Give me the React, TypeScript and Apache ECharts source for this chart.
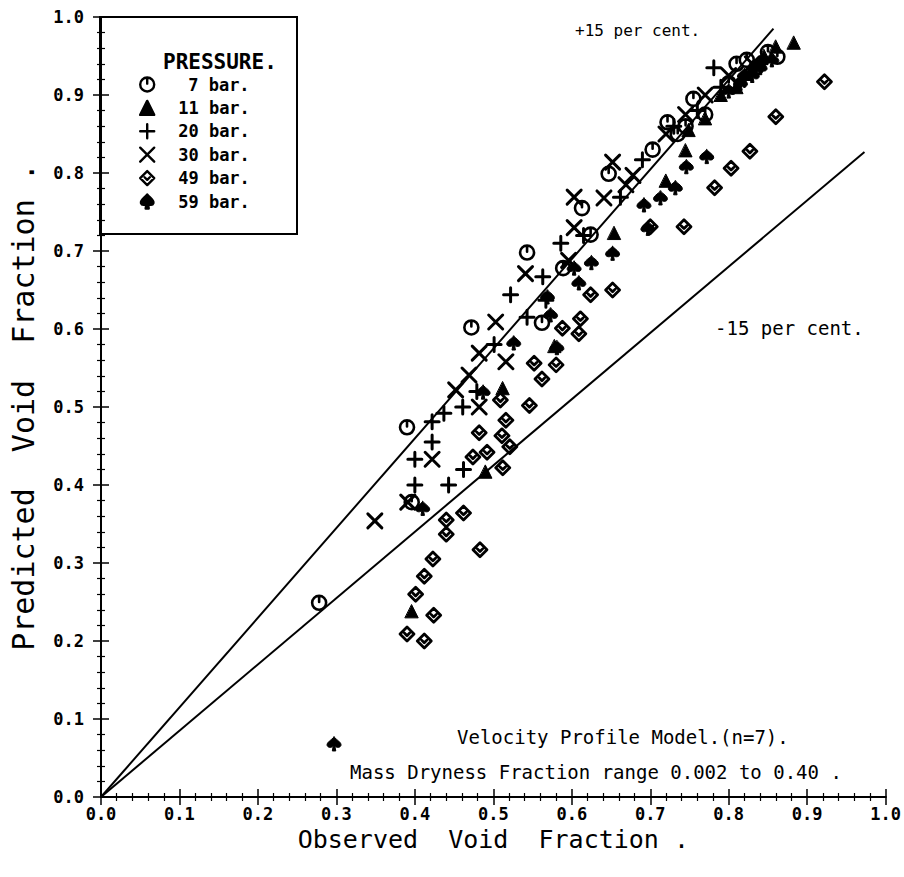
import React, { useEffect, useRef } from "react";
import * as echarts from "echarts";

const pressures = ["7", "11", "20", "30", "49", "59"];
const seriesNames = pressures.map((p) => p + " bar");

const bar7 = [
  [0.278, 0.249], [0.39, 0.474], [0.396, 0.378], [0.472, 0.602], [0.543, 0.698],
  [0.562, 0.608], [0.589, 0.678], [0.613, 0.755], [0.624, 0.721], [0.647, 0.799],
  [0.703, 0.83], [0.722, 0.865], [0.735, 0.85], [0.745, 0.86], [0.755, 0.895],
  [0.77, 0.875], [0.8, 0.915], [0.81, 0.94], [0.823, 0.945], [0.835, 0.935],
  [0.85, 0.955], [0.862, 0.949],
];
const bar11 = [
  [0.396, 0.238], [0.49, 0.417], [0.512, 0.524], [0.578, 0.578], [0.654, 0.723],
  [0.72, 0.79], [0.745, 0.829], [0.749, 0.855], [0.77, 0.87], [0.79, 0.9],
  [0.81, 0.91], [0.83, 0.935], [0.845, 0.95], [0.86, 0.962], [0.883, 0.967],
];
const bar20 = [
  [0.4, 0.4], [0.4, 0.433], [0.422, 0.455], [0.422, 0.481], [0.443, 0.4],
  [0.462, 0.42], [0.437, 0.492], [0.461, 0.5], [0.479, 0.52], [0.501, 0.58],
  [0.522, 0.644], [0.543, 0.615], [0.563, 0.667], [0.567, 0.637], [0.586, 0.71],
  [0.615, 0.72], [0.662, 0.769], [0.69, 0.817], [0.73, 0.86], [0.76, 0.88],
  [0.781, 0.935], [0.79, 0.91], [0.82, 0.92], [0.84, 0.94],
];
const bar30 = [
  [0.349, 0.354], [0.391, 0.378], [0.422, 0.433], [0.452, 0.522], [0.469, 0.541],
  [0.482, 0.569], [0.482, 0.5], [0.503, 0.609], [0.516, 0.558], [0.541, 0.671],
  [0.596, 0.688], [0.603, 0.73], [0.603, 0.769], [0.641, 0.768], [0.652, 0.814],
  [0.669, 0.785], [0.678, 0.797], [0.72, 0.85], [0.745, 0.875], [0.77, 0.9],
  [0.8, 0.925], [0.83, 0.94],
];
const bar49 = [
  [0.39, 0.209], [0.412, 0.2], [0.401, 0.26], [0.412, 0.283], [0.423, 0.305],
  [0.424, 0.233], [0.44, 0.355], [0.44, 0.337], [0.462, 0.364], [0.483, 0.317],
  [0.474, 0.436], [0.492, 0.442], [0.482, 0.467], [0.511, 0.463], [0.521, 0.449],
  [0.512, 0.422], [0.516, 0.483], [0.509, 0.509], [0.546, 0.502], [0.552, 0.556],
  [0.562, 0.536], [0.58, 0.554], [0.588, 0.601], [0.609, 0.594], [0.611, 0.613],
  [0.624, 0.644], [0.652, 0.65], [0.7, 0.731], [0.743, 0.731], [0.782, 0.781],
  [0.803, 0.806], [0.827, 0.828], [0.86, 0.872], [0.922, 0.917],
];
const bar59 = [
  [0.297, 0.068], [0.41, 0.37], [0.487, 0.519], [0.526, 0.582], [0.573, 0.618],
  [0.581, 0.576], [0.569, 0.641], [0.603, 0.678], [0.609, 0.659], [0.625, 0.685],
  [0.652, 0.697], [0.697, 0.729], [0.692, 0.759], [0.713, 0.768], [0.732, 0.781],
  [0.746, 0.808], [0.772, 0.821], [0.8, 0.905], [0.815, 0.915], [0.82, 0.925],
  [0.83, 0.925], [0.84, 0.935], [0.855, 0.945],
];

const upperLine = [[0, 0], [0.857, 0.985]];
const lowerLine = [[0, 0], [0.973, 0.827]];

const MONO = "DejaVu Sans Mono";

const SYM_CIRCLE = "path://M2,10 A8,8 0 1,1 18,10 A8,8 0 1,1 2,10 Z M10,4 L10,9";
const SYM_PLUS = "path://M10,1 L10,19 M1,10 L19,10";
const SYM_X = "path://M2,2 L18,18 M18,2 L2,18";
const SYM_DIAMOND = "path://M10,2 L18,10 L10,18 L2,10 Z M7,9 L10,12 L13,9";
const SYM_SPADE =
  "path://M10,1 C13,5 19,8 18,12 C17,15 13,15 11,13 L12,19 L8,19 L9,13 C7,15 3,15 2,12 C1,8 7,5 10,1 Z";

export default function App() {
  const ref = useRef<HTMLDivElement>(null);

  useEffect(() => {
    if (!ref.current) return;
    const chart = echarts.init(ref.current, null, { renderer: "svg" });

    const seriesDefs = [
      { data: bar7, symbol: SYM_CIRCLE, size: 14, style: { color: "#fff", borderColor: "#000", borderWidth: 2.6 } },
      { data: bar11, symbol: "triangle", size: 13, style: { color: "#000", borderColor: "#000", borderWidth: 1 } },
      { data: bar20, symbol: SYM_PLUS, size: 14, style: { color: "#000", borderColor: "#000", borderWidth: 3 } },
      { data: bar30, symbol: SYM_X, size: 14, style: { color: "#000", borderColor: "#000", borderWidth: 3 } },
      { data: bar49, symbol: SYM_DIAMOND, size: 14, style: { color: "#fff", borderColor: "#000", borderWidth: 2.8 } },
      { data: bar59, symbol: SYM_SPADE, size: 14, style: { color: "#000", borderColor: "#000", borderWidth: 1 } },
    ];

    const axisCommon = {
      type: "value",
      min: 0,
      max: 1,
      interval: 0.1,
      axisLine: { show: true, lineStyle: { color: "#000", width: 2 } },
      axisTick: { show: true, inside: true, length: 8, lineStyle: { color: "#000", width: 1.5 } },
      minorTick: { show: true, splitNumber: 5, length: 4, lineStyle: { color: "#000", width: 1.2 } },
      splitLine: { show: false },
      minorSplitLine: { show: false },
    };
    const labelStyle = {
      color: "#000",
      fontFamily: MONO,
      fontSize: 17,
      fontWeight: "bold",
      formatter: (v: number) => v.toFixed(1),
    };

    const textStyleBase = { fontFamily: MONO, fill: "#000" };
    const legendRich = { fontFamily: MONO, fontSize: 17, fontWeight: "bold", color: "#000" };

    chart.setOption({
      animation: false,
      backgroundColor: "#fff",
      grid: { left: 100, right: 18, top: 17, bottom: 80, containLabel: false },
      xAxis: [
        {
          ...axisCommon,
          position: "bottom",
          axisLabel: { ...labelStyle, margin: 8 },
          name: "Observed  Void  Fraction .",
          nameLocation: "middle",
          nameGap: 26,
          nameTextStyle: { fontFamily: MONO, fontSize: 25, color: "#000", verticalAlign: "top" },
        },
        { ...axisCommon, position: "top", axisLabel: { show: false } },
      ],
      yAxis: [
        {
          ...axisCommon,
          position: "left",
          axisLabel: { ...labelStyle, margin: 17 },
          name: "Predicted  Void  Fraction .",
          nameLocation: "middle",
          nameGap: 63,
          nameTextStyle: { fontFamily: MONO, fontSize: 30, color: "#000" },
        },
        { ...axisCommon, position: "right", axisLabel: { show: false } },
      ],
      legend: {
        orient: "vertical",
        left: 134,
        top: 71,
        itemWidth: 14,
        itemHeight: 14,
        itemGap: 6.4,
        data: seriesNames,
        itemStyle: { borderWidth: 2.4 },
        formatter: (name: string) => {
          const num = name.split(" ")[0];
          return `{${num.length === 1 ? "p" : "q"}|${num} bar.}`;
        },
        textStyle: {
          ...legendRich,
          rich: {
            p: { ...legendRich, padding: [0, 0, 0, 29] },
            q: { ...legendRich, padding: [0, 0, 0, 19] },
          },
        },
      },
      graphic: [
        {
          type: "rect",
          shape: { x: 100, y: 17, width: 197, height: 217 },
          style: { fill: "none", stroke: "#000", lineWidth: 2 },
          z: 10,
        },
        {
          type: "text",
          x: 163,
          y: 62,
          style: { ...textStyleBase, text: "PRESSURE.", fontSize: 21, fontWeight: "bold", verticalAlign: "middle" },
          z: 10,
        },
        {
          type: "text",
          x: 575,
          y: 30,
          style: { ...textStyleBase, text: "+15 per cent.", fontSize: 16, verticalAlign: "middle" },
        },
        {
          type: "text",
          x: 715,
          y: 328,
          style: { ...textStyleBase, text: "-15 per cent.", fontSize: 19, verticalAlign: "middle" },
        },
        {
          type: "text",
          x: 457,
          y: 737,
          style: { ...textStyleBase, text: "Velocity Profile Model.(n=7).", fontSize: 19, verticalAlign: "middle" },
        },
        {
          type: "text",
          x: 350,
          y: 772,
          style: {
            ...textStyleBase,
            text: "Mass Dryness Fraction range 0.002 to 0.40 .",
            fontSize: 19,
            verticalAlign: "middle",
          },
        },
      ],
      series: [
        {
          type: "line",
          data: upperLine,
          symbol: "none",
          lineStyle: { color: "#000", width: 2 },
          silent: true,
        },
        {
          type: "line",
          data: lowerLine,
          symbol: "none",
          lineStyle: { color: "#000", width: 2 },
          silent: true,
        },
        ...seriesDefs.map((s, i) => ({
          type: "scatter",
          name: seriesNames[i],
          data: s.data,
          symbol: s.symbol,
          symbolSize: s.size,
          itemStyle: { ...s.style, opacity: 1, borderJoin: "round", borderCap: "round" },
        })),
      ],
    });

    return () => chart.dispose();
  }, []);

  return (
    <div
      ref={ref}
      style={{ position: "fixed", left: 0, top: 0, width: 904, height: 877, background: "#fff" }}
    />
  );
}
